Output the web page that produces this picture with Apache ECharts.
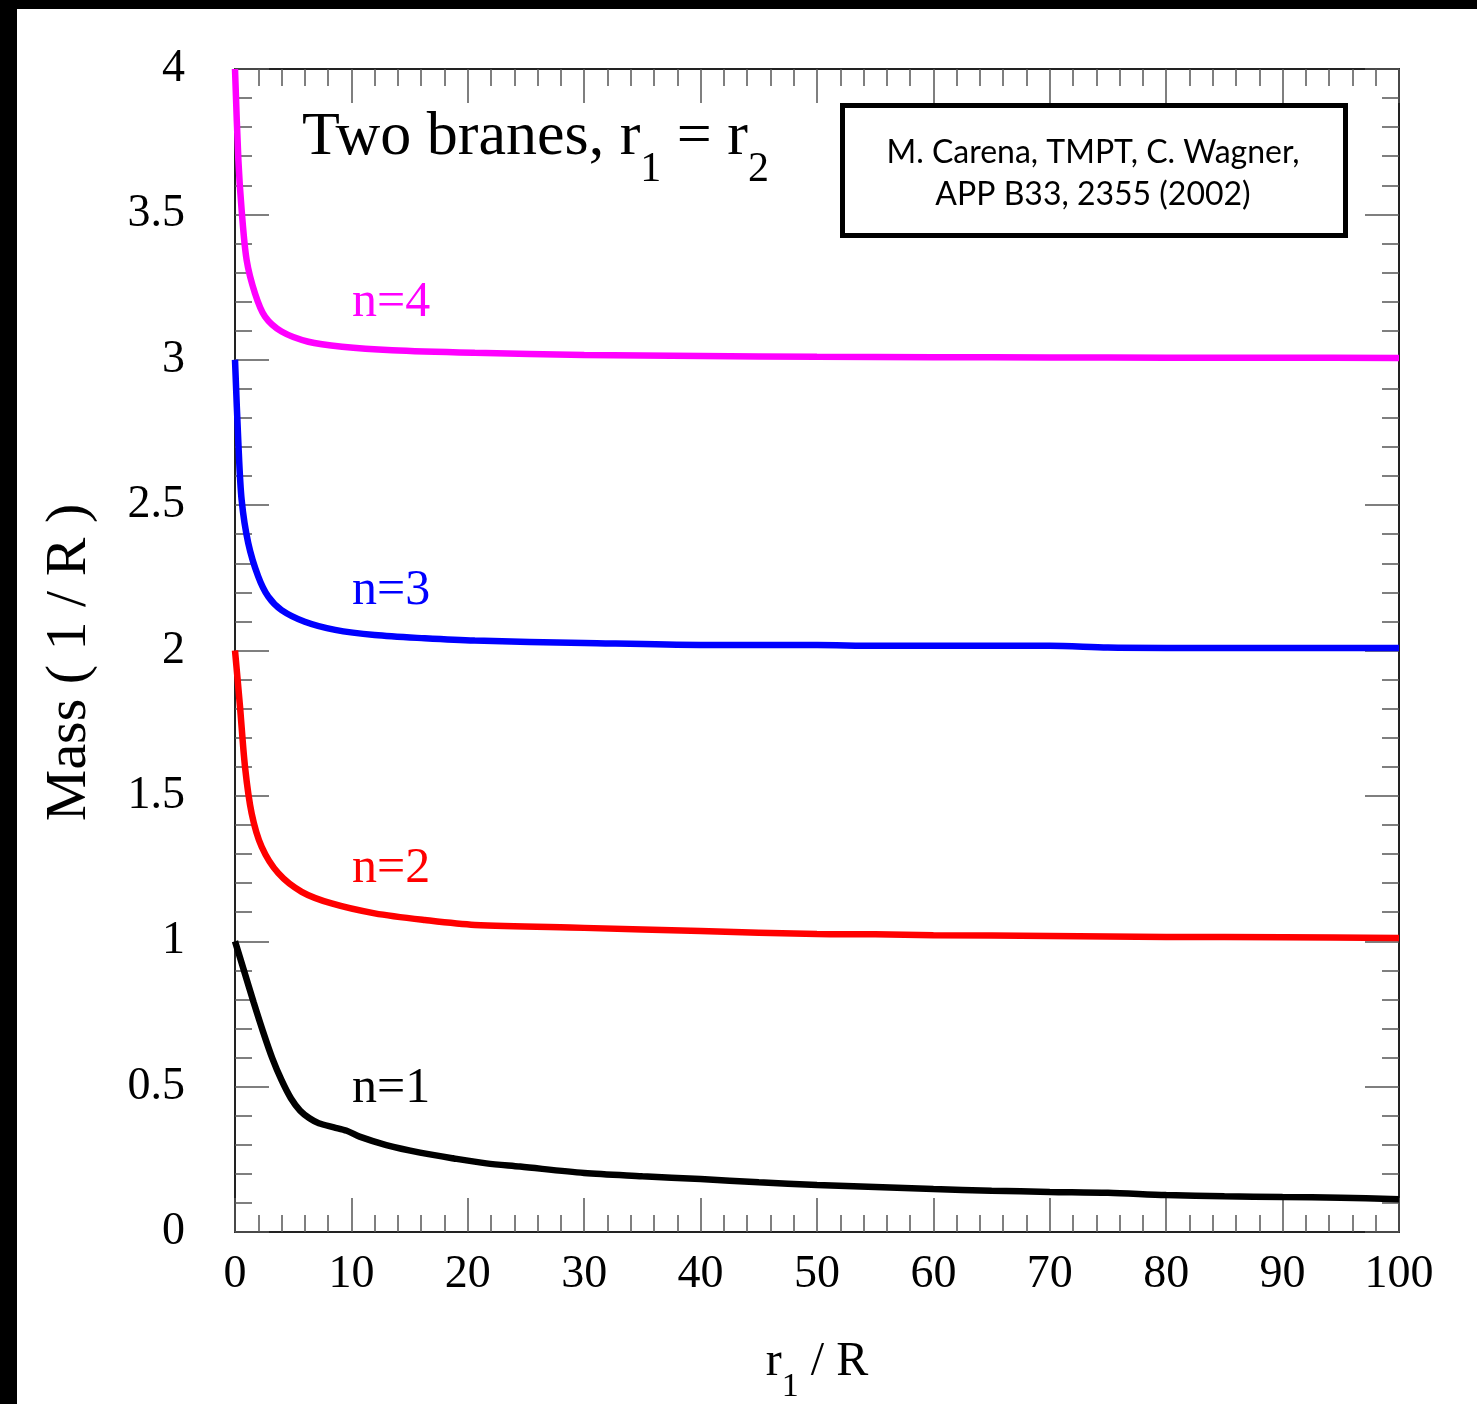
<!DOCTYPE html>
<html>
<head>
<meta charset="utf-8">
<script src="https://cdn.jsdelivr.net/npm/echarts@6/dist/echarts.min.js"></script>
<style>
html,body{margin:0;padding:0;background:#000;width:1477px;height:1404px;overflow:hidden;}
#chart{position:absolute;left:17px;top:9px;width:1460px;height:1395px;background:#fff;}
</style>
</head>
<body>
<div id="chart"></div>
<script>
// r1/R values and masses (1/R)
const n1X = [0, 0.8, 1.6, 2.4, 3.2, 4.0, 4.8, 5.6, 6.4, 7.2, 8.5, 9.6, 10.7, 13.0, 15.9, 18.8, 21.6, 24.5, 30, 35, 40, 45, 50, 55, 60, 65, 70, 75, 80, 85, 90, 95, 100];
const n1Y = [1.0, 0.895, 0.79, 0.69, 0.598, 0.522, 0.46, 0.417, 0.391, 0.374, 0.36, 0.348, 0.328, 0.299, 0.273, 0.253, 0.236, 0.225, 0.203, 0.192, 0.182, 0.171, 0.162, 0.155, 0.148, 0.142, 0.138, 0.135, 0.127, 0.123, 0.120, 0.118, 0.113];

const n2X = [0, 0.43, 0.86, 1.43, 2.29, 3.72, 5.73, 8.3, 12.0, 16.3, 20.6, 30, 40, 50, 55, 60, 70, 80, 90, 100];
const n2Y = [2.0, 1.807, 1.600, 1.44, 1.325, 1.234, 1.170, 1.130, 1.096, 1.073, 1.056, 1.046, 1.035, 1.025, 1.024, 1.021, 1.018, 1.015, 1.014, 1.011];

const n3X = [0, 0.29, 0.57, 1.14, 2.0, 2.86, 4.0, 6.0, 8.6, 12.0, 16.3, 20.6, 30, 40, 50, 55, 60, 70, 75, 80, 90, 100];
const n3Y = [3.0, 2.713, 2.518, 2.369, 2.254, 2.185, 2.139, 2.099, 2.071, 2.053, 2.042, 2.034, 2.026, 2.019, 2.019, 2.016, 2.016, 2.016, 2.010, 2.009, 2.009, 2.009];

const n4X = [0, 0.29, 0.57, 1.0, 1.72, 2.58, 4.0, 6.3, 9.2, 13.5, 20.6, 30, 40, 50, 60, 70, 80, 90, 100];
const n4Y = [4.0, 3.687, 3.515, 3.343, 3.228, 3.148, 3.097, 3.062, 3.045, 3.033, 3.024, 3.016, 3.013, 3.010, 3.009, 3.008, 3.007, 3.007, 3.006];

const seriesNames = ['n=1', 'n=2', 'n=3', 'n=4'];
const seriesColors = ['#000000', '#ff0000', '#0000ff', '#ff00ff'];
const xTickLabels = ['0','10','20','30','40','50','60','70','80','90','100'];

const refLine1 = 'M. Carena, TMPT, C. Wagner,';
const refLine2 = 'APP B33, 2355 (2002)';

const pairs = (xs, ys) => xs.map((x, i) => [x, ys[i]]);
const allData = [pairs(n1X, n1Y), pairs(n2X, n2Y), pairs(n3X, n3Y), pairs(n4X, n4Y)];

const serif = 'Liberation Serif, Times New Roman, serif';
const axisLineStyle = {color: '#222', width: 2};
const tickStyle = {color: '#555', width: 1.5};

function mkX(pos, showLabel) {
  return {
    type: 'value', position: pos, min: 0, max: 100, interval: 10,
    axisLine: {show: true, onZero: false, lineStyle: axisLineStyle},
    axisTick: {show: true, inside: true, length: 34, lineStyle: tickStyle},
    minorTick: {show: true, splitNumber: 5, length: 17, lineStyle: tickStyle},
    splitLine: {show: false},
    axisLabel: {show: showLabel, margin: 20, fontFamily: serif, fontSize: 46, color: '#000',
      formatter: (v) => xTickLabels[Math.round(v / 10)]},
    name: showLabel ? '{a|r}{s|1}{a| / R}' : '',
    nameLocation: 'middle', nameGap: 106,
    nameTextStyle: {rich: {
      a: {fontFamily: serif, fontSize: 48, color: '#000'},
      s: {fontFamily: serif, fontSize: 34, color: '#000', verticalAlign: 'bottom', padding: [0,0,-18,0]}
    }}
  };
}
function mkY(pos, showLabel) {
  return {
    type: 'value', position: pos, min: 0, max: 4, interval: 0.5,
    axisLine: {show: true, onZero: false, lineStyle: axisLineStyle},
    axisTick: {show: true, inside: true, length: 34, lineStyle: tickStyle},
    minorTick: {show: true, splitNumber: 5, length: 17, lineStyle: tickStyle},
    splitLine: {show: false},
    axisLabel: {show: showLabel, margin: 50, fontFamily: serif, fontSize: 46, color: '#000'},
    name: showLabel ? 'Mass ( 1 / R )' : '',
    nameLocation: 'middle', nameGap: 136, nameRotate: 90,
    nameTextStyle: {fontFamily: serif, fontSize: 58, color: '#000', padding: [0, 24, 0, 0]}
  };
}

const chart = echarts.init(document.getElementById('chart'), null, {renderer: 'canvas'});
const labelPos = [[335, 1093], [335, 873], [335, 595], [335, 307]];

chart.setOption({
  backgroundColor: '#fff',
  animation: false,
  grid: {left: 218, top: 60, right: 78, bottom: 172, containLabel: false, outerBoundsMode: 'none'},
  xAxis: [mkX('bottom', true), mkX('top', false)],
  yAxis: [mkY('left', true), mkY('right', false)],
  series: allData.map((d, i) => ({
    name: seriesNames[i], type: 'line', data: d, xAxisIndex: 0, yAxisIndex: 0,
    showSymbol: false, smooth: 0.3, clip: true,
    lineStyle: {color: seriesColors[i], width: 6.5}
  })),
  graphic: [
    {type: 'text', left: 285, top: 98, style: {
      text: '{a|Two branes, r}{s|1}{a| = r}{s|2}',
      rich: {
        a: {fontFamily: serif, fontSize: 62, fill: '#000'},
        s: {fontFamily: serif, fontSize: 42, fill: '#000', verticalAlign: 'bottom', padding: [0,0,-22,0]}
      }
    }},
    {type: 'rect', shape: {x: 825.5, y: 96.5, width: 503, height: 130}, style: {fill: '#fff', stroke: '#000', lineWidth: 5}},
    {type: 'text', x: 1076, y: 165, style: {text: refLine1 + '\n' + refLine2, align: 'center', verticalAlign: 'middle',
      fontFamily: 'Lato, Open Sans, sans-serif', fontSize: 32, lineHeight: 42, fill: '#000'}},
  ].concat(seriesNames.map((s, i) => ({
    type: 'text', left: labelPos[i][0], top: labelPos[i][1] - 9 - 29,
    style: {text: s, fontFamily: serif, fontSize: 50, fill: seriesColors[i]}
  })))
});
</script>
</body>
</html>
